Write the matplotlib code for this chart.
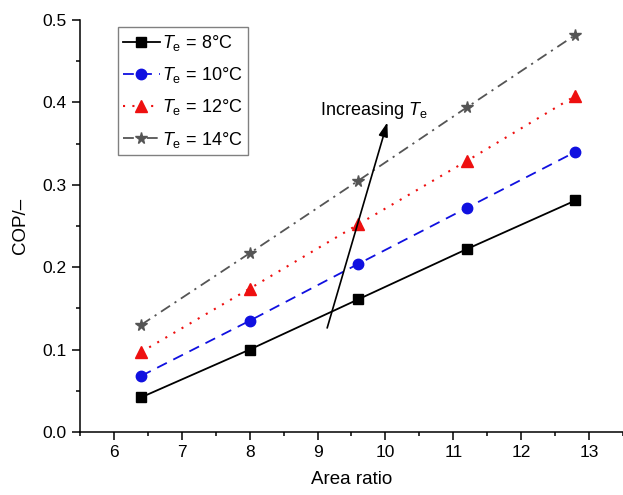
import numpy as np
import matplotlib
matplotlib.use('Agg')
import matplotlib.pyplot as plt
from matplotlib.ticker import MultipleLocator

plt.rcParams['font.family'] = 'Liberation Sans'
plt.rcParams['mathtext.fontset'] = 'custom'
plt.rcParams['mathtext.rm'] = 'Liberation Sans'
plt.rcParams['mathtext.it'] = 'Liberation Sans:italic'

# area ratio vs COP for four evaporator temperatures
area_ratio = [6.4, 8.0, 9.6, 11.2, 12.8]
cop_8 = [0.042, 0.100, 0.161, 0.222, 0.281]
cop_10 = [0.068, 0.135, 0.204, 0.272, 0.340]
cop_12 = [0.097, 0.174, 0.252, 0.329, 0.408]
cop_14 = [0.130, 0.217, 0.305, 0.394, 0.482]
labels = [r'$T_\mathrm{e}$ = 8°C', r'$T_\mathrm{e}$ = 10°C',
          r'$T_\mathrm{e}$ = 12°C', r'$T_\mathrm{e}$ = 14°C']

fig = plt.figure(figsize=(6.23, 4.95), dpi=100)
ax = fig.add_axes([0.1284, 0.1273, 0.8716, 0.8323])

ax.plot(area_ratio, cop_8, '-', color='black', marker='s', markersize=6.5, lw=1.3, label=labels[0])
ax.plot(area_ratio, cop_10, color='#1010e0', ls=(0, (6, 4)), marker='o', markersize=7.5, lw=1.3, label=labels[1])
ax.plot(area_ratio, cop_12, color='#ee1010', ls=(0, (1, 3.5)), marker='^', markersize=8, lw=1.5, label=labels[2])
ax.plot(area_ratio, cop_14, color='#555555', ls=(0, (6, 3, 1.2, 3)), marker='*', markersize=8.5, lw=1.3, label=labels[3])

ax.annotate('', xy=(10.04, 0.379), xytext=(9.13, 0.123),
            arrowprops=dict(arrowstyle='-|>,head_length=0.6,head_width=0.2', color='black', lw=1.2, mutation_scale=14))
ax.text(9.03, 0.39, r'Increasing $T_\mathrm{e}$', fontsize=13, va='center', ha='left')

ax.set_xlim(5.5, 13.5)
ax.set_ylim(0, 0.5)
ax.xaxis.set_major_locator(MultipleLocator(1))
ax.xaxis.set_minor_locator(MultipleLocator(0.5))
ax.yaxis.set_major_locator(MultipleLocator(0.1))
ax.yaxis.set_minor_locator(MultipleLocator(0.05))
ax.yaxis.set_major_formatter(matplotlib.ticker.FormatStrFormatter('%.1f'))
ax.tick_params(which='major', direction='out', length=6, width=1.1, labelsize=12.5)
ax.tick_params(which='minor', direction='out', length=3, width=1.1)
ax.spines['top'].set_visible(False)
ax.spines['right'].set_visible(False)
ax.spines['left'].set_linewidth(1.1)
ax.spines['bottom'].set_linewidth(1.1)

ax.set_xlabel('Area ratio', fontsize=13.5, labelpad=8)
ax.set_ylabel('COP/–', fontsize=13.5, labelpad=10)

leg = ax.legend(loc='upper left', bbox_to_anchor=(0.07, 0.982), borderaxespad=0,
                fontsize=13, fancybox=False, framealpha=1, edgecolor='#808080',
                handlelength=2.0, handletextpad=0.15, labelspacing=0.68, borderpad=0.3)
leg.get_frame().set_linewidth(1.0)

plt.savefig('out.png', dpi=100)
